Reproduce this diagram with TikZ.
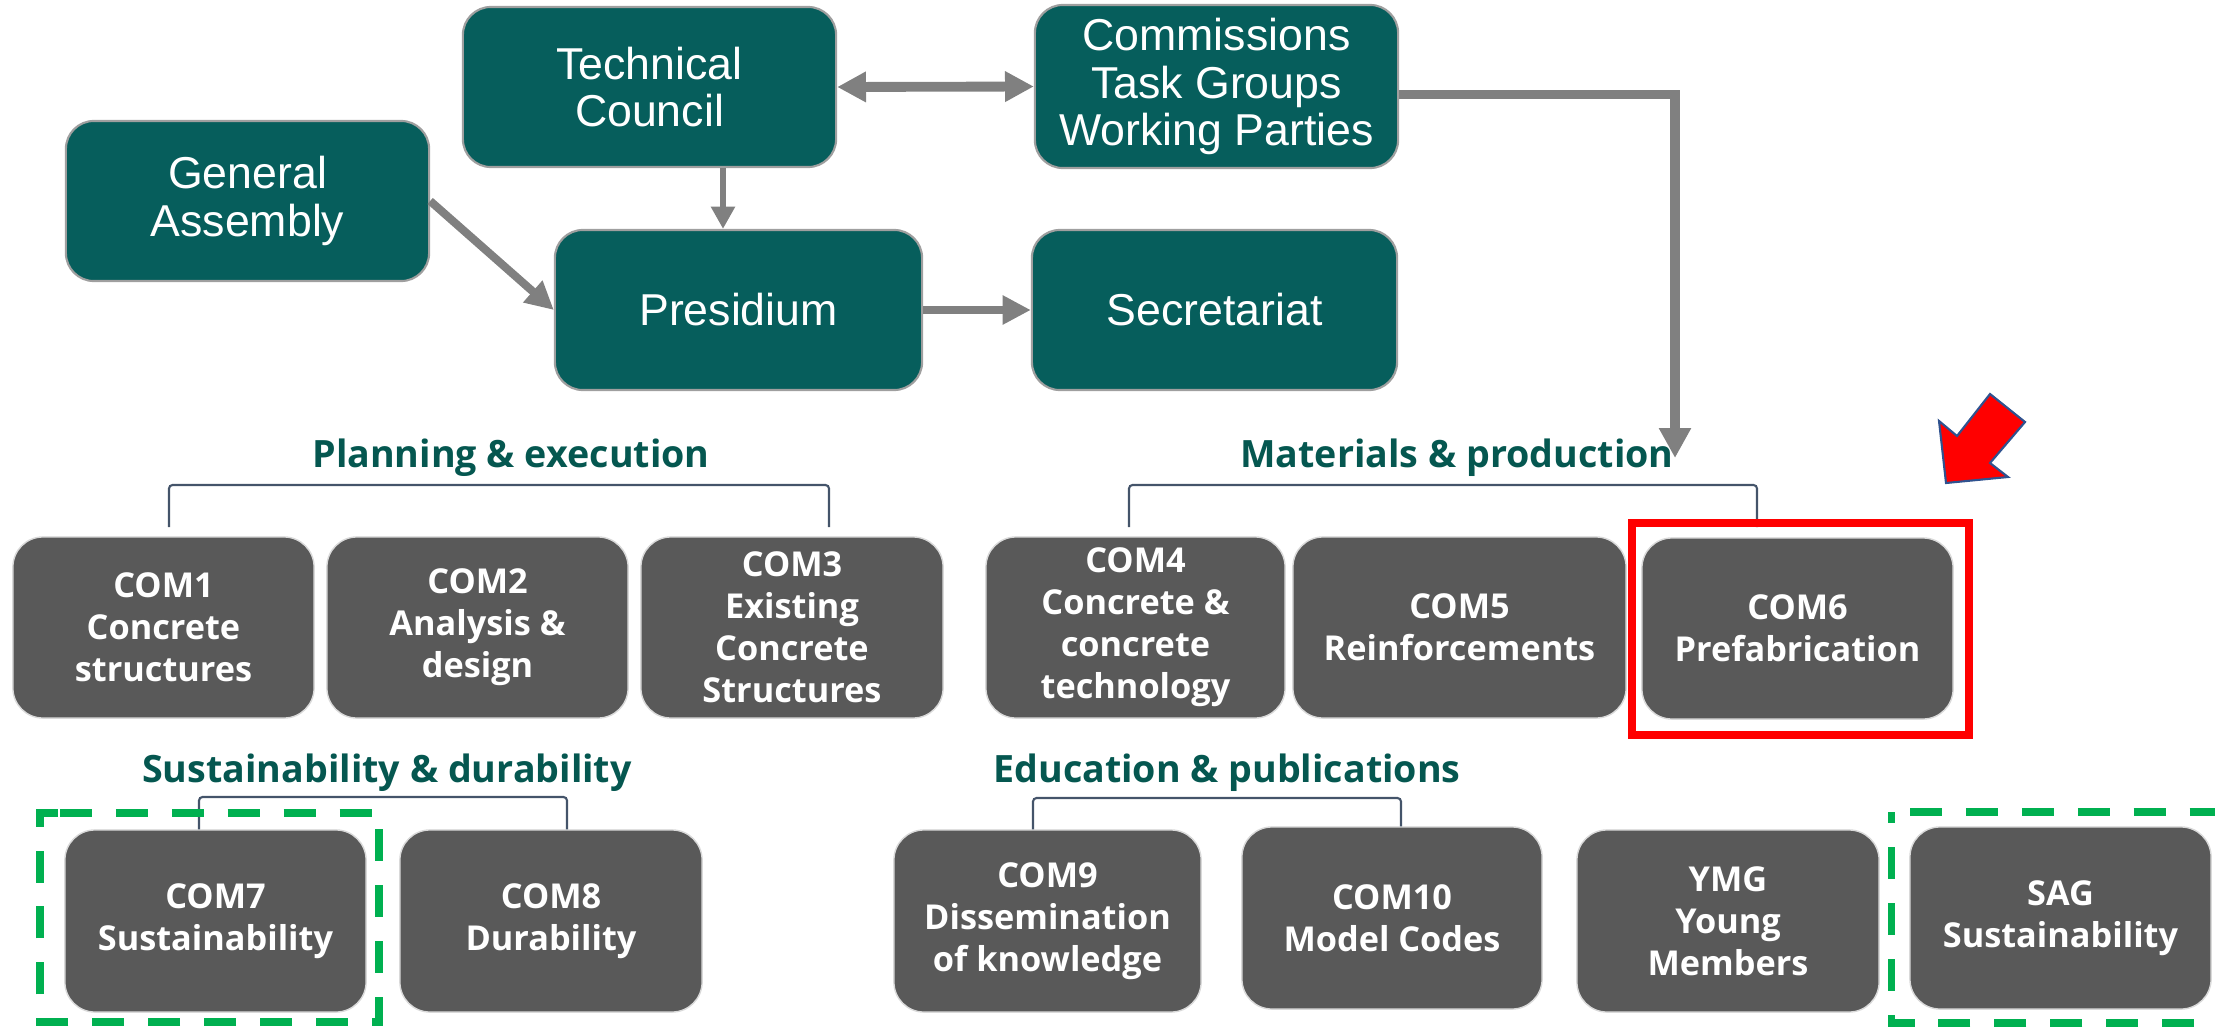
\documentclass[tikz,border=0pt]{standalone}
\usepackage{fontspec}
\usepackage{xcolor}
\usepackage{tikz}
\usetikzlibrary{arrows.meta}
\newfontfamily\boardfont{Liberation Sans}
\newfontfamily\comfont{Open Sans}
\definecolor{boardteal}{RGB}{6,94,92}
\definecolor{comgray}{RGB}{89,89,89}
\definecolor{headteal}{RGB}{5,87,80}
\definecolor{conngray}{RGB}{128,128,128}
\definecolor{bracketblue}{RGB}{68,84,106}
\definecolor{markgreen}{RGB}{0,176,80}
\definecolor{arrowblue}{RGB}{47,82,143}
\tikzstyle{board} = [draw=gray!75, line width=0.6pt, fill=boardteal, text=white, rounded corners=0.28cm, align=center, inner sep=0pt, minimum height=1.6cm, font=\boardfont\fontsize{12.7}{13.4}\selectfont]
\tikzstyle{com} = [draw=white!85!black, line width=0.4pt, fill=comgray, text=white, rounded corners=0.3cm, align=center, inner sep=0pt, minimum height=1.81cm, minimum width=3.01cm, font=\comfont\bfseries\fontsize{9.75}{11.95}\selectfont]
\tikzstyle{group} = [text=headteal, anchor=base, inner sep=0pt, font=\comfont\bfseries\fontsize{10.7}{12}\selectfont]
\tikzstyle{bracket} = [draw=bracketblue, line width=0.6pt, rounded corners=1pt]
\tikzstyle{conn} = [draw=conngray, line width=2.3pt, -{Triangle[length=8pt,width=7.8pt]}]
\tikzstyle{thickconn} = [draw=conngray, line width=2.8pt, -{Triangle[length=8.5pt,width=8.6pt]}]
\tikzstyle{thinconn} = [draw=conngray, line width=1.6pt, -{Triangle[length=6.3pt,width=6.5pt]}]
\tikzstyle{dblconn} = [draw=conngray, line width=2.8pt, {Triangle[length=8.2pt,width=8.2pt]}-{Triangle[length=8.2pt,width=8.2pt]}]
\tikzstyle{greenmark} = [draw=markgreen, line width=2pt, dash pattern=on 9.1pt off 6.8pt]

\begin{document}
\begin{tikzpicture}[x=0.01cm, y=-0.01cm]
    \useasboundingbox (0,0) rectangle (2215,1027);
    \node[board, minimum width=3.73cm] (tech) at (649.5,87) {Technical\\Council};
    \node[board, minimum width=3.63cm, minimum height=1.63cm] (comm) at (1216.5,86.5) {Commissions\\Task Groups\\Working Parties};
    \node[board, minimum width=3.63cm] (ga) at (247.5,201) {General\\Assembly};
    \node[board, minimum width=3.67cm] (pres) at (738.5,310) {Presidium};
    \node[board, minimum width=3.65cm] (secr) at (1214.5,310) {Secretariat};
    \coordinate (matin) at (1675,458);
    \draw[dblconn] (tech.east) -- (comm.west);
    \draw[thinconn] (723,0 |- tech.south) -- (723,0 |- pres.north);
    \draw[conn] (ga.east) -- (pres.west);
    \draw[conn] (pres.east) -- (secr.west);
    \draw[thickconn] (comm.east) ++(0,8) -| (matin);

    \node[group] (plan) at (511,467) {Planning \& execution};
    \node[group] (mat) at (1457,467) {Materials \& production};
    \node[group] (sust) at (387,782) {Sustainability \& durability};
    \node[group] (edu) at (1227,782) {Education \& publications};

    \node[com] (com1) at (163.5,627.5) {COM1\\Concrete\\structures};
    \node[com] (com2) at (477.5,627.5) {COM2\\Analysis \&\\design};
    \node[com, minimum width=3.02cm] (com3) at (792,627.5) {COM3\\Existing\\Concrete\\Structures};
    \node[com, minimum width=2.99cm] (com4) at (1135.5,627.5) {COM4\\Concrete \&\\concrete\\technology};
    \node[com, minimum width=3.33cm] (com5) at (1459.5,627.5) {COM5\\Reinforcements};
    \node[com, minimum width=3.11cm] (com6) at (1797.5,628.5) {COM6\\Prefabrication};
    \node[com, minimum height=1.82cm] (com7) at (215.5,921) {COM7\\Sustainability};
    \node[com, minimum height=1.82cm, minimum width=3.02cm] (com8) at (551,921) {COM8\\Durability};
    \node[com, minimum height=1.82cm, minimum width=3.07cm] (com9) at (1047.5,921) {COM9\\Dissemination\\of knowledge};
    \node[com, minimum height=1.82cm, minimum width=3.00cm] (com10) at (1392,918) {COM10\\Model Codes};
    \node[com, minimum height=1.82cm, minimum width=3.02cm] (ymg) at (1728,921) {YMG\\Young\\Members};
    \node[com, minimum height=1.82cm] (sag) at (2060.5,918) {SAG\\Sustainability};

    \draw[bracket] (169,527) -- (169,485) -- (829,485) -- (829,527);
    \draw[bracket] (1129,527) -- (1129,485) -- (1757,485) -- (1757,527);
    \draw[bracket] (199,0 |- com7.north) -- (199,797) -- (567,797) -- (567,0 |- com8.north);
    \draw[bracket] (1033,0 |- com9.north) -- (1033,798) -- (1401,798) -- (1401,0 |- com10.north);

    \draw[red, line width=2.3pt] (1632,523) rectangle (1969,735);
    \draw[fill=red, draw=arrowblue, line width=0.6pt] (1946,483) -- (1939,421) -- (1957,436) -- (1990,394) -- (2025,422) -- (1990,463) -- (2008,477) -- cycle;
    \draw[greenmark] (60,813) -- (379,813) -- (379,1022) -- (40,1022) -- (40,813) -- cycle;
    \draw[greenmark] (1910,812) -- (2250,812) (2250,1023) -- (1891,1023) -- (1891,812);
\end{tikzpicture}
\end{document}
